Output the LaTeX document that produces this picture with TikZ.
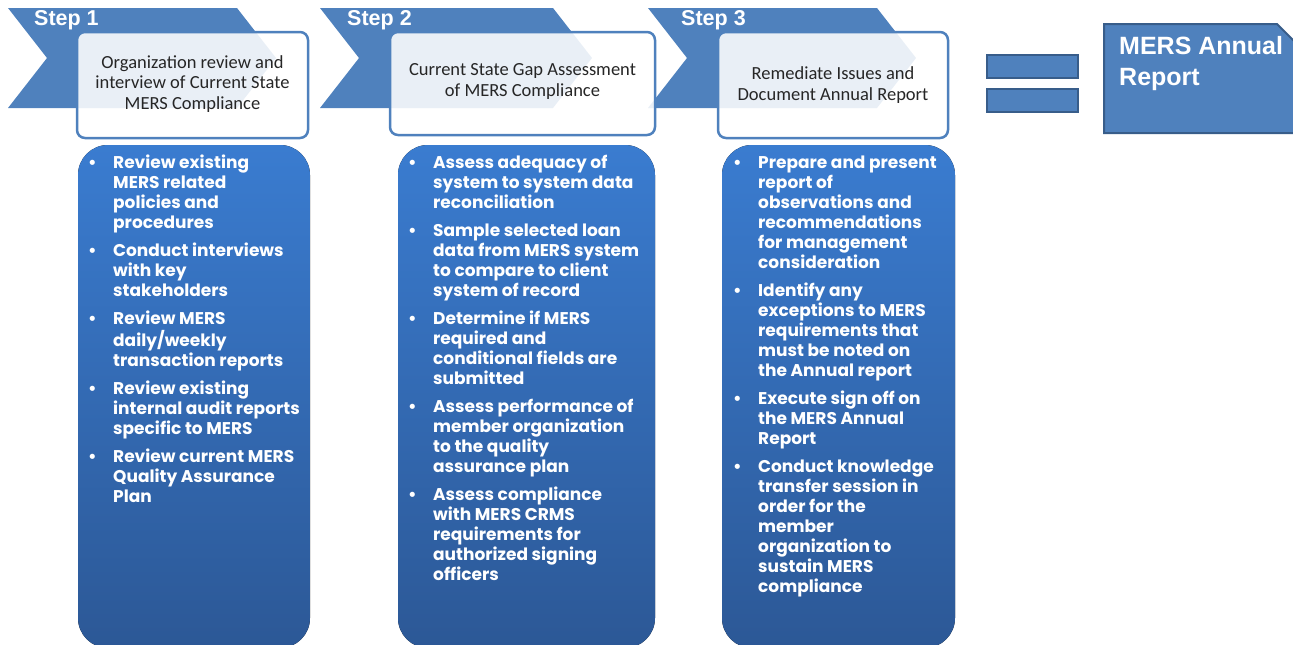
\documentclass[tikz,border=0pt]{standalone}
\usepackage{fontspec}
\setmainfont{Liberation Sans}
\newfontfamily\headfont{Carlito}
\newfontfamily\bodyfont{Poppins}
\usetikzlibrary{positioning}
\definecolor{stepblue}{RGB}{79,129,189}
\definecolor{darkblue}{RGB}{56,93,138}
\definecolor{topblue}{RGB}{58,124,208}
\definecolor{botblue}{RGB}{44,88,150}
\definecolor{headgray}{RGB}{38,38,38}
\newcommand{\bul}{\textbullet}

\begin{document}
\begin{tikzpicture}[
    x=1pt, y=-1pt,
    chevron/.style={%
      fill=stepblue,
    },
    headbox/.style={%
      draw=stepblue,
      line width=2.5pt,
      fill=white,
      fill opacity=0.88,
      rounded corners=8pt,
    },
    bodybox/.style={%
      top color=topblue,
      bottom color=botblue,
      rounded corners=30pt,
    },
    steplabel/.style={%
      text=white,
      font=\fontsize{21.5}{24}\selectfont\bfseries,
      anchor=west,
      inner sep=0pt,
    },
    headtext/.style={%
      text=headgray,
      align=center,
      font=\headfont\fontsize{18.5}{20.5}\selectfont,
    },
    bodytext/.style={%
      text=white,
      anchor=north west,
      inner sep=0pt,
      font=\bodyfont\bfseries\fontsize{17}{20}\selectfont,
    },
    eqbar/.style={%
      fill=stepblue,
      draw=darkblue,
      line width=2pt,
    },
  ]

    \useasboundingbox (0,0) rectangle (1293,645);

    % chevrons
    \fill [chevron] (8,8) -- (237,8) -- (276,58) -- (237,108) -- (8,108) -- (47,58) -- cycle;
    \fill [chevron] (320,8) -- (553,8) -- (592,58) -- (553,108) -- (320,108) -- (359,58) -- cycle;
    \fill [chevron] (648,8) -- (877,8) -- (916,58) -- (877,108) -- (648,108) -- (687,58) -- cycle;

    \node [steplabel] (S1) at (34,20) {Step 1};
    \node [steplabel] (S2) at (347,20) {Step 2};
    \node [steplabel] (S3) at (681,20) {Step 3};

    % header boxes
    \draw [headbox] (77,32) rectangle (308,138);
    \draw [headbox] (390,32) rectangle (655,135);
    \draw [headbox] (718,32) rectangle (948,138);

    \node [headtext] (H1) at (192.5,84) {Organization review and\\interview of Current State\\MERS Compliance};
    \node [headtext] (H2) at (522.5,81.5) {Current State Gap Assessment\\of MERS Compliance};
    \node [headtext] (H3) at (833,85) {Remediate Issues and\\Document Annual Report};

    % body boxes
    \fill [bodybox] (78,145) rectangle (310,648);
    \fill [bodybox] (398,145) rectangle (655,648);
    \fill [bodybox] (722,145) rectangle (955,648);

    \node [bodytext] (B1) at (88,154) {%
      \begin{tabular}{@{}p{25pt}@{}l@{}}
        \bul & Review existing\\ & MERS related\\ & policies and\\ & procedures\\[8pt]
        \bul & Conduct interviews\\ & with key\\ & stakeholders\\[8pt]
        \bul & Review MERS\\ & daily/weekly\\ & transaction reports\\[8pt]
        \bul & Review existing\\ & internal audit reports\\ & specific to MERS\\[8pt]
        \bul & Review current MERS\\ & Quality Assurance\\ & Plan
      \end{tabular}};
    \node [bodytext] (B2) at (408,154) {%
      \begin{tabular}{@{}p{25pt}@{}l@{}}
        \bul & Assess adequacy of\\ & system to system data\\ & reconciliation\\[8pt]
        \bul & Sample selected loan\\ & data from MERS system\\ & to compare to client\\ & system of record\\[8pt]
        \bul & Determine if MERS\\ & required and\\ & conditional fields are\\ & submitted\\[8pt]
        \bul & Assess performance of\\ & member organization\\ & to the quality\\ & assurance plan\\[8pt]
        \bul & Assess compliance\\ & with MERS CRMS\\ & requirements for\\ & authorized signing\\ & officers
      \end{tabular}};
    \node [bodytext] (B3) at (733,154) {%
      \begin{tabular}{@{}p{25pt}@{}l@{}}
        \bul & Prepare and present\\ & report of\\ & observations and\\ & recommendations\\ & for management\\ & consideration\\[8pt]
        \bul & Identify any\\ & exceptions to MERS\\ & requirements that\\ & must be noted on\\ & the Annual report\\[8pt]
        \bul & Execute sign off on\\ & the MERS Annual\\ & Report\\[8pt]
        \bul & Conduct knowledge\\ & transfer session in\\ & order for the\\ & member\\ & organization to\\ & sustain MERS\\ & compliance
      \end{tabular}};

    % equals sign
    \draw [eqbar] (987,55) rectangle (1078,78);
    \draw [eqbar] (987,89) rectangle (1078,112);

    % report box
    \draw [eqbar] (1104,24) -- (1277,24) -- (1296,43) -- (1296,133) -- (1104,133) -- cycle;
    \node [text=white, anchor=north west, inner sep=0pt, align=left,
      font=\fontsize{25}{31}\selectfont\bfseries] (R) at (1119,36) {MERS Annual\\Report};

\end{tikzpicture}
\end{document}
